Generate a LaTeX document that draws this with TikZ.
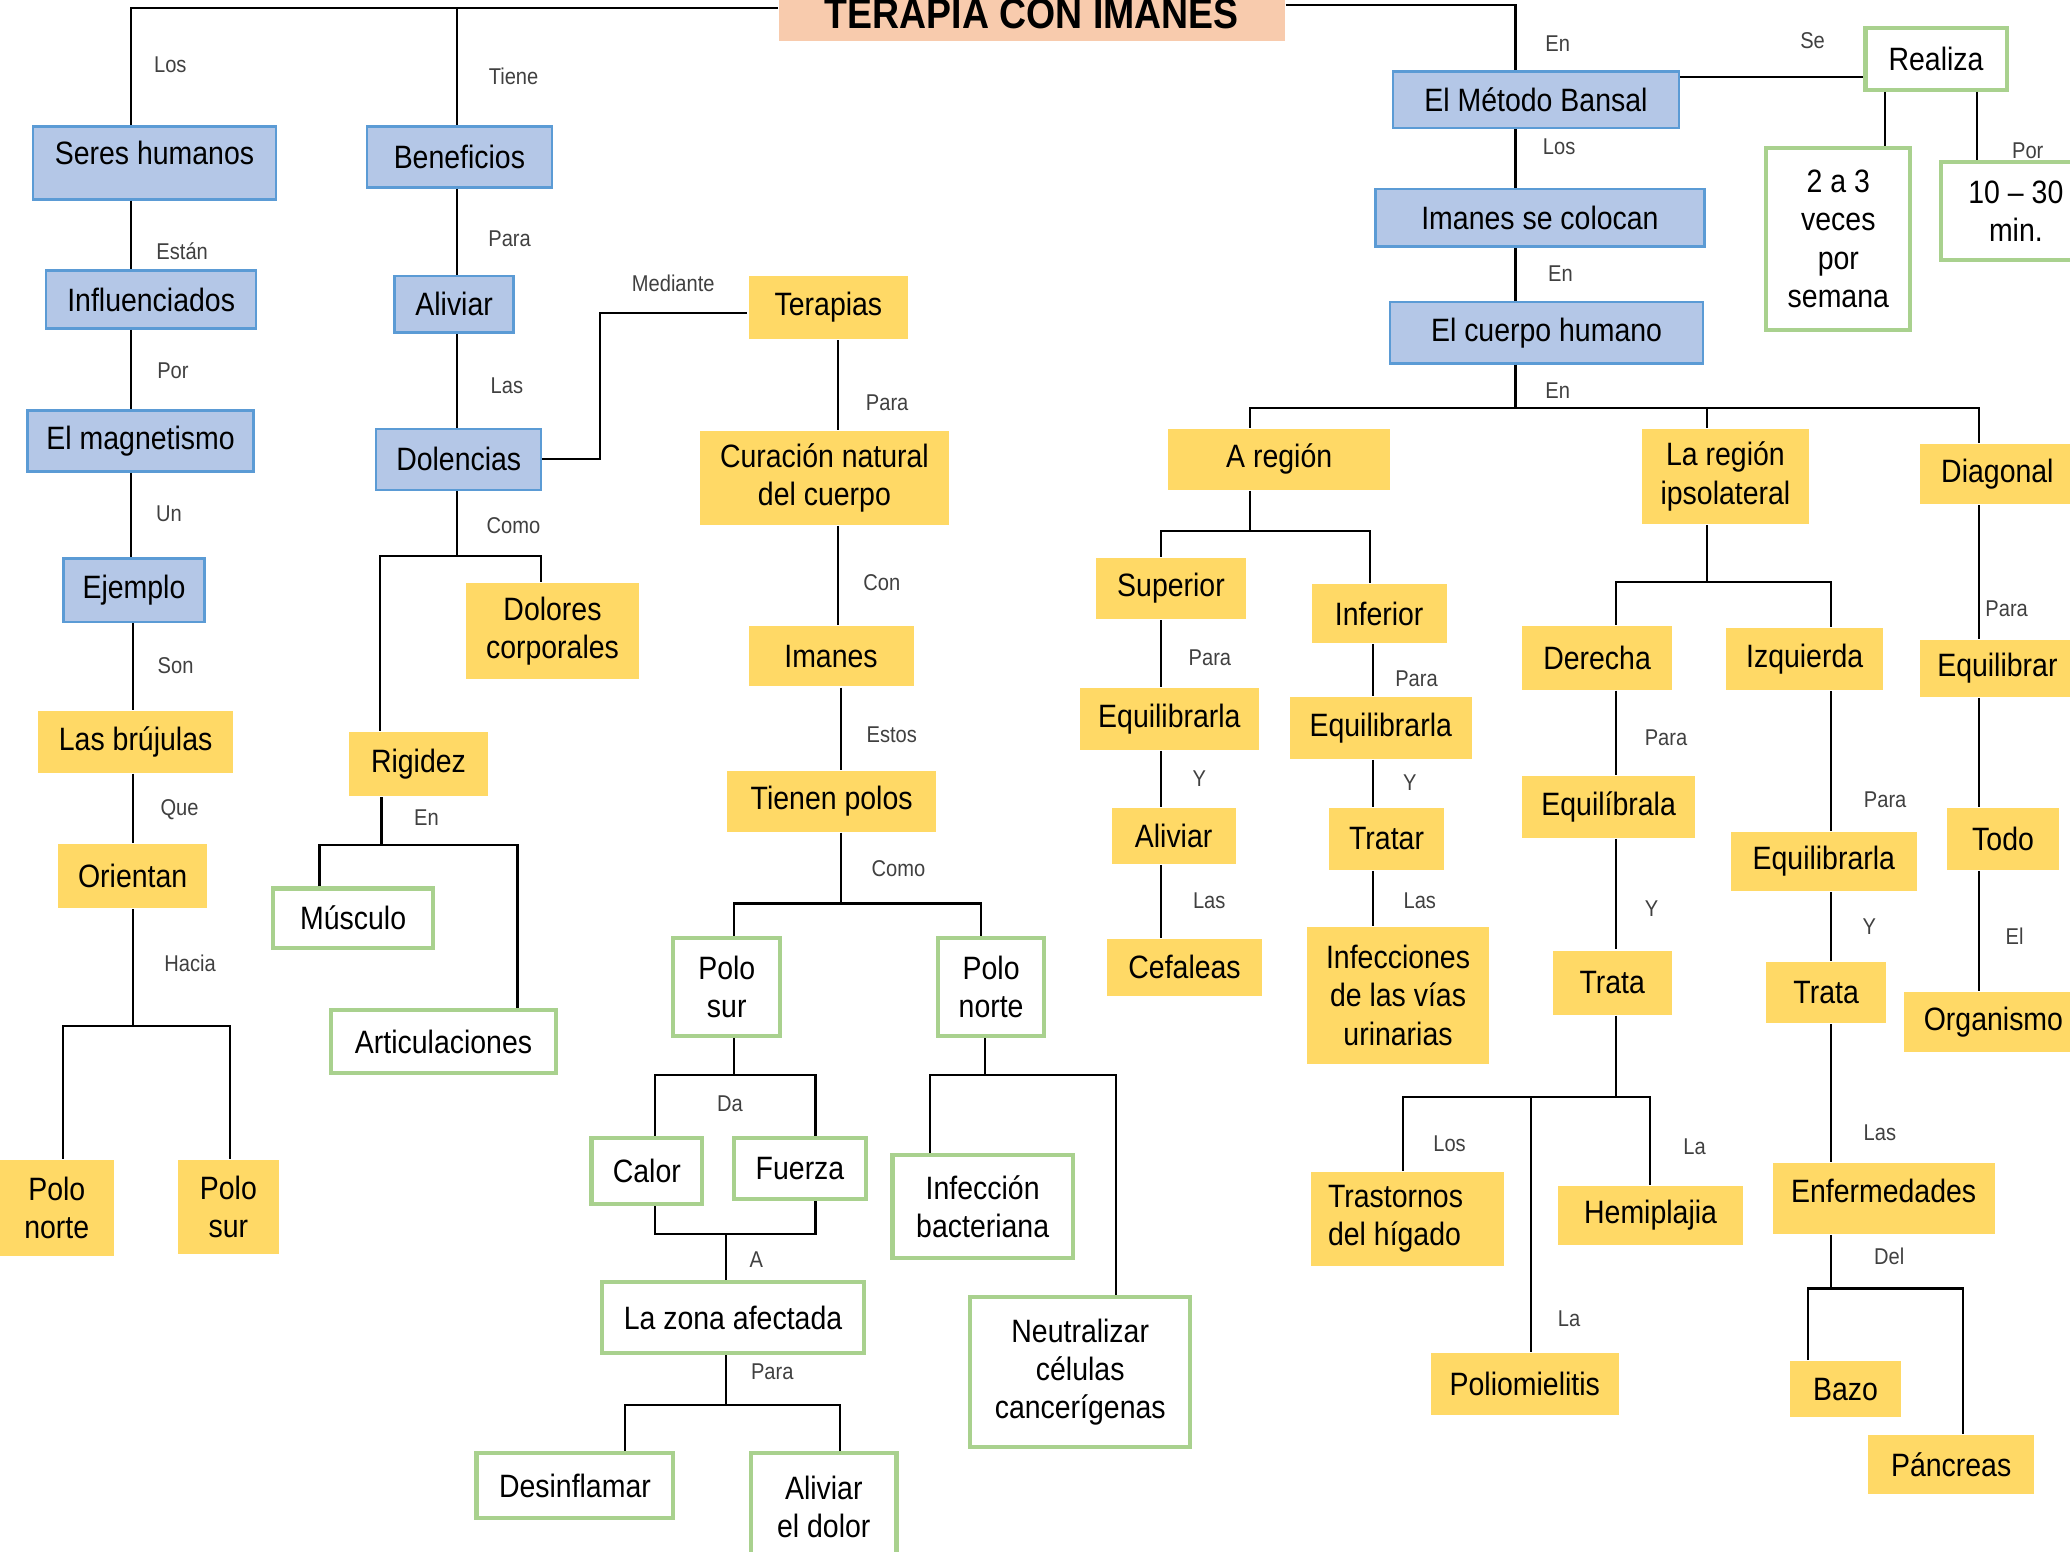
\documentclass[tikz,border=0pt]{standalone}
\usepackage{fontspec}
\setmainfont[FakeStretch=0.88]{Liberation Sans}
\definecolor{bfill}{HTML}{B4C7E7}
\definecolor{bline}{HTML}{5B9BD5}
\definecolor{yfill}{HTML}{FFD966}
\definecolor{gline}{HTML}{A9D18E}
\definecolor{tfill}{HTML}{F8CBAD}
\definecolor{lgray}{HTML}{404040}
\newcommand{\mainsz}{\fontsize{9.2}{10.9}\selectfont}
\newcommand{\lnksz}{\fontsize{6.5}{7.8}\selectfont}
\newcommand{\titsz}{\fontsize{12.1}{14}\selectfont\bfseries}
\tikzset{bconc/.style={draw=bline,fill=bfill,line width=0.7pt,font=\mainsz,inner sep=1pt,align=center},
	 yconc/.style={fill=yfill,font=\mainsz,inner sep=1pt,align=center},
	 gconc/.style={draw=gline,fill=white,line width=1.2pt,font=\mainsz,inner sep=1pt,align=center},
	 tconc/.style={fill=tfill,font=\titsz,inner sep=1pt},
	 lnk/.style={text=lgray,font=\lnksz,inner sep=0pt},
	 wh/.style 2 args={minimum width=#1*0.0132cm,minimum height=#2*0.0132cm}
	 }

\begin{document}
\begin{tikzpicture}[x=0.0132cm,y=-0.0132cm,line width=0.6pt] % Terapia con imanes
	\useasboundingbox (0,0) rectangle (1568,1175);
	\node[tconc] (titl) at (781.5,10.3) [wh={383}{41}] {TERAPIA CON IMANES};
	% left branches
	\node[bconc] (seres) at (117,123.5) [wh={184}{55},text depth=0.2cm] {Seres humanos};
	\node[bconc] (infl) at (114.5,227) [wh={159}{44}] {Influenciados};
	\node[bconc] (magn) at (106.5,334) [wh={171}{46}] {El magnetismo};
	\node[bconc] (ejem) at (101.5,447) [wh={107}{48}] {Ejemplo};
	\node[yconc] (bruj) at (102.75,562) [wh={147.5}{46.5}] {Las brújulas};
	\node[yconc] (orie) at (100.5,663.5) [wh={113}{49}] {Orientan};
	\node[yconc] (pnl) at (43,915) [wh={86}{73}] {Polo\\norte};
	\node[yconc] (psl) at (173,914.3) [wh={76}{71.4}] {Polo\\sur};
	\node[bconc] (benef) at (348,119) [wh={140}{46}] {Beneficios};
	\node[bconc] (alivb) at (344,230.5) [wh={90}{43}] {Aliviar};
	\node[bconc] (dolen) at (347.5,348) [wh={125}{46}] {Dolencias};
	\node[yconc] (dolo) at (418.5,478) [wh={131}{72}] {Dolores\\corporales};
	\node[yconc] (rigi) at (317,578.75) [wh={106}{48.5}] {Rigidez};
	\node[gconc] (musc) at (267.5,695.5) [wh={121}{45}] {Músculo};
	\node[gconc] (arti) at (336,789) [wh={170}{48}] {Articulaciones};
	% middle branch
	\node[yconc] (tera) at (627.5,233) [wh={121}{48}] {Terapias};
	\node[yconc] (cura) at (624.5,362) [wh={189}{71}] {Curación natural\\del cuerpo};
	\node[yconc] (iman) at (629.5,497) [wh={125}{46}] {Imanes};
	\node[yconc] (tien) at (630,607) [wh={158}{46}] {Tienen polos};
	\node[gconc] (psm) at (550.5,747.75) [wh={81}{74.5}] {Polo\\sur};
	\node[gconc] (pnm) at (750.75,747.75) [wh={80.5}{74.5}] {Polo\\norte};
	\node[gconc] (calo) at (490,887) [wh={84}{50}] {Calor};
	\node[gconc] (fuer) at (606,885) [wh={100}{46}] {Fuerza};
	\node[gconc] (zona) at (555.25,998) [wh={198.5}{54}] {La zona afectada};
	\node[gconc] (desi) at (435.5,1125.25) [wh={149}{49.5}] {Desinflamar};
	\node[gconc] (alid) at (624,1141.5) [wh={110}{82}] {Aliviar\\el dolor};
	\node[gconc] (infb) at (744.35,914) [wh={136.7}{78}] {Infección\\bacteriana};
	\node[gconc] (neut) at (818.25,1039.25) [wh={166.5}{113.5}] {Neutralizar\\células\\cancerígenas};
	% right branch
	\node[bconc] (bans) at (1163.5,75.5) [wh={217}{43}] {El Método Bansal};
	\node[bconc] (imco) at (1166.5,165) [wh={249}{43.5}] {Imanes se colocan};
	\node[bconc] (cuer) at (1171.5,252) [wh={237}{46.5}] {El cuerpo humano};
	\node[gconc] (real) at (1466.5,44.5) [wh={107}{47}] {Realiza};
	\node[gconc] (dos) at (1392.5,181) [wh={109}{138}] {2 a 3\\veces\\por\\semana};
	\node[gconc] (diez) at (1527,160) [wh={114}{74}] {10 – 30\\min.};
	\node[yconc] (areg) at (969,348) [wh={168}{46}] {A región};
	\node[yconc] (ipso) at (1307,361) [wh={126}{72}] {La región\\ipsolateral};
	\node[yconc] (diag) at (1513,359) [wh={118}{46}] {Diagonal};
	\node[yconc] (supe) at (887,445.75) [wh={113}{46.3}] {Superior};
	\node[yconc] (infe) at (1044.7,464.7) [wh={102}{44.6}] {Inferior};
	\node[yconc] (eqL) at (885.8,544.5) [wh={135.6}{47}] {Equilibrarla};
	\node[yconc] (eqR) at (1045.9,551.25) [wh={138}{47}] {Equilibrarla};
	\node[yconc] (aliy) at (889,633.3) [wh={94}{42.6}] {Aliviar};
	\node[yconc] (trat) at (1050.3,635.5) [wh={86.6}{47}] {Tratar};
	\node[yconc] (cefa) at (897.3,732.75) [wh={117.4}{43.5}] {Cefaleas};
	\node[yconc] (infu) at (1059,754) [wh={138}{104}] {Infecciones\\de las vías\\urinarias};
	\node[yconc] (dere) at (1209.75,498.2) [wh={113.5}{48.4}] {Derecha};
	\node[yconc] (izqu) at (1367,499.3) [wh={119}{47}] {Izquierda};
	\node[yconc] (eqla) at (1218.5,611.35) [wh={131}{46.7}] {Equilíbrala};
	\node[yconc] (eqiz) at (1381.5,652.5) [wh={141}{45}] {Equilibrarla};
	\node[yconc] (trdr) at (1221.25,744.25) [wh={90.5}{48.5}] {Trata};
	\node[yconc] (triz) at (1383.3,752) [wh={90.6}{46}] {Trata};
	\node[yconc] (equi) at (1513,506.25) [wh={118}{43}] {Equilibrar};
	\node[yconc] (todo) at (1517.3,635.5) [wh={84.6}{47}] {Todo};
	\node[yconc] (orga) at (1510,774.2) [wh={136}{45.6}] {Organismo};
	\node[yconc] (tras) at (1066,923.25) [wh={146}{71},text width=120*0.0132cm,align=flush left] {Trastornos\\del hígado};
	\node[yconc] (hemi) at (1250.3,920.8) [wh={140.6}{44.4}] {Hemiplajia};
	\node[yconc] (poli) at (1155,1048.5) [wh={142}{47}] {Poliomielitis};
	\node[yconc] (enfe) at (1426.85,908.1) [wh={168.3}{53.8},text depth=0.16cm] {Enfermedades};
	\node[yconc] (bazo) at (1398,1052.25) [wh={84}{42.5}] {Bazo};
	\node[yconc] (panc) at (1478,1109.3) [wh={126}{44.6}] {Páncreas};
	% link words
	\node[lnk] (lb1) at (129,49) {Los};
	\node[lnk] (lb2) at (138,190) {Están};
	\node[lnk] (lb3) at (131,281) {Por};
	\node[lnk] (lb4) at (128,389) {Un};
	\node[lnk] (lb5) at (133,504) {Son};
	\node[lnk] (lb6) at (136,613) {Que};
	\node[lnk] (lb7) at (144,730) {Hacia};
	\node[lnk] (lb8) at (389,58) {Tiene};
	\node[lnk] (lb9) at (386,181) {Para};
	\node[lnk] (lb10) at (384,292) {Las};
	\node[lnk] (lb11) at (389,398) {Como};
	\node[lnk] (lb12) at (323,619) {En};
	\node[lnk] (lb13) at (510,215) {Mediante};
	\node[lnk] (lb14) at (672,305) {Para};
	\node[lnk] (lb15) at (668,441) {Con};
	\node[lnk] (lb16) at (675.5,556.5) {Estos};
	\node[lnk] (lb17) at (680.5,658) {Como};
	\node[lnk] (lb18) at (553,836) {Da};
	\node[lnk] (lb19) at (573,954) {A};
	\node[lnk] (lb20) at (585,1039) {Para};
	\node[lnk] (lb21) at (1180,33) {En};
	\node[lnk] (lb22) at (1373,31) {Se};
	\node[lnk] (lb23) at (1181,111) {Los};
	\node[lnk] (lb24) at (1182,207) {En};
	\node[lnk] (lb25) at (1180,296) {En};
	\node[lnk] (lb26) at (1536,114) {Por};
	\node[lnk] (lb27) at (916.5,498.5) {Para};
	\node[lnk] (lb28) at (908.5,590) {Y};
	\node[lnk] (lb29) at (916,682) {Las};
	\node[lnk] (lb30) at (1073,514) {Para};
	\node[lnk] (lb31) at (1068,592.5) {Y};
	\node[lnk] (lb32) at (1075.5,682) {Las};
	\node[lnk] (lb33) at (1262,559) {Para};
	\node[lnk] (lb34) at (1251,688.5) {Y};
	\node[lnk] (lb35) at (1428,606) {Para};
	\node[lnk] (lb36) at (1416,702) {Y};
	\node[lnk] (lb37) at (1424,858) {Las};
	\node[lnk] (lb38) at (1431,952) {Del};
	\node[lnk] (lb39) at (1520,461) {Para};
	\node[lnk] (lb40) at (1526,709) {El};
	\node[lnk] (lb41) at (1098,866.5) {Los};
	\node[lnk] (lb42) at (1283.6,869) {La};
	\node[lnk] (lb43) at (1188.6,999) {La};
	% connectors
	\coordinate (tl) at (99,6); \coordinate (tb) at (346,6); \coordinate (tr) at (1148,4);
	\draw (titl.west |- tl) -- (tl) -- (tl |- seres.north); \draw (tb) -- (tb |- benef.north);
	\draw (titl.east |- tr) -- (tr) -- (tr |- bans.north);
	\coordinate (ca) at (99,0); \coordinate (cb) at (101,0);
	\draw (ca |- seres.south) -- (ca |- infl.north); \draw (ca |- infl.south) -- (ca |- magn.north);
	\draw (ca |- magn.south) -- (ca |- ejem.north); \draw (cb |- ejem.south) -- (cb |- bruj.north);
	\draw (cb |- bruj.south) -- (cb |- orie.north);
	\coordinate (fo1) at (48,777); \coordinate (fo2) at (174,777);
	\draw (cb |- orie.south) -- (cb |- fo1); \draw (fo1 |- pnl.north) -- (fo1) -- (fo2) -- (fo2 |- psl.north);
	\draw (tb |- benef.south) -- (tb |- alivb.north); \draw (tb |- alivb.south) -- (tb |- dolen.north);
	\coordinate (fd1) at (288,421.5); \coordinate (fd2) at (410,421.5);
	\draw (tb |- dolen.south) -- (tb |- fd1); \draw (fd1 |- rigi.north) -- (fd1) -- (fd2) -- (fd2 |- dolo.north);
	\coordinate (fr0) at (289,640); \coordinate (fr1) at (242,640); \coordinate (fr2) at (392,640);
	\draw (fr0 |- rigi.south) -- (fr0); \draw (fr1 |- musc.north) -- (fr1) -- (fr2) -- (fr2 |- arti.north);
	\coordinate (med) at (454.5,237);
	\draw (dolen.east) -| (med) -- (med -| tera.west);
	\coordinate (cm) at (634.5,0); \coordinate (cn) at (637,0);
	\draw (cm |- tera.south) -- (cm |- cura.north); \draw (cm |- cura.south) -- (cm |- iman.north);
	\draw (cn |- iman.south) -- (cn |- tien.north);
	\coordinate (fp1) at (556,684.4); \coordinate (fp2) at (743,684.4);
	\draw (cn |- tien.south) -- (cn |- fp1); \draw (fp1 |- psm.north) -- (fp1) -- (fp2) -- (fp2 |- pnm.north);
	\coordinate (fs1) at (496,814.6); \coordinate (fs2) at (617.7,814.6);
	\draw (fp1 |- psm.south) -- (fp1 |- fs1); \draw (fs1 |- calo.north) -- (fs1) -- (fs2) -- (fs2 |- fuer.north);
	\coordinate (fz0) at (550,935); \coordinate (fz1) at (496,935); \coordinate (fz2) at (617.7,935);
	\draw (fz1 |- calo.south) -- (fz1) -- (fz2) -- (fz2 |- fuer.south); \draw (fz0) -- (fz0 |- zona.north);
	\coordinate (fa1) at (473.5,1064.6); \coordinate (fa2) at (636.5,1064.6);
	\draw (fz0 |- zona.south) -- (fz0 |- fa1); \draw (fa1 |- desi.north) -- (fa1) -- (fa2) -- (fa2 |- alid.north);
	\coordinate (fn0) at (746,814.6); \coordinate (fn1) at (704.6,814.6); \coordinate (fn2) at (845.5,814.6);
	\draw (fn0 |- pnm.south) -- (fn0); \draw (fn1 |- infb.north) -- (fn1) -- (fn2) -- (fn2 |- neut.north);
	\coordinate (se) at (1340,58.6); \draw (se -| bans.east) -- (se -| real.west);
	\coordinate (r1) at (1428,0); \coordinate (r2) at (1497.6,0);
	\draw (r1 |- real.south) -- (r1 |- dos.north); \draw (r2 |- real.south) -- (r2 |- diez.north);
	\draw (tr |- bans.south) -- (tr |- imco.north); \draw (tr |- imco.south) -- (tr |- cuer.north);
	\coordinate (fe0) at (1148,309); \coordinate (fe1) at (947,309); \coordinate (fe2) at (1499,309); \coordinate (ip) at (1293,309);
	\draw (tr |- cuer.south) -- (fe0); \draw (fe1 |- areg.north) -- (fe1) -- (fe2) -- (fe2 |- diag.north);
	\draw (ip) -- (ip |- ipso.north);
	\coordinate (fg1) at (879.6,402.5); \coordinate (fg2) at (1037.8,402.5); \coordinate (ch) at (1040,0);
	\draw (fe1 |- areg.south) -- (fe1 |- fg1); \draw (fg1 |- supe.north) -- (fg1) -- (fg2) -- (fg2 |- infe.north);
	\draw (fg1 |- supe.south) -- (fg1 |- eqL.north); \draw (fg1 |- eqL.south) -- (fg1 |- aliy.north);
	\draw (fg1 |- aliy.south) -- (fg1 |- cefa.north);
	\draw (ch |- infe.south) -- (ch |- eqR.north); \draw (ch |- eqR.south) -- (ch |- trat.north);
	\draw (ch |- trat.south) -- (ch |- infu.north);
	\coordinate (fi1) at (1224,441); \coordinate (fi2) at (1387,441);
	\draw (ip |- ipso.south) -- (ip |- fi1); \draw (fi1 |- dere.north) -- (fi1) -- (fi2) -- (fi2 |- izqu.north);
	\draw (fi1 |- dere.south) -- (fi1 |- eqla.north); \draw (fi1 |- eqla.south) -- (fi1 |- trdr.north);
	\coordinate (ft0) at (1160,831); \coordinate (ft1) at (1063,831); \coordinate (ft2) at (1250,831);
	\draw (fi1 |- trdr.south) -- (fi1 |- ft1); \draw (ft1 |- tras.north) -- (ft1) -- (ft2) -- (ft2 |- hemi.north);
	\draw (ft0) -- (ft0 |- poli.north);
	\draw (fi2 |- izqu.south) -- (fi2 |- eqiz.north); \draw (fi2 |- eqiz.south) -- (fi2 |- triz.north);
	\draw (fi2 |- triz.south) -- (fi2 |- enfe.north);
	\coordinate (fb1) at (1369.6,976); \coordinate (fb2) at (1487,976);
	\draw (fi2 |- enfe.south) -- (fi2 |- fb1); \draw (fb1 |- bazo.north) -- (fb1) -- (fb2) -- (fb2 |- panc.north);
	\draw (fe2 |- diag.south) -- (fe2 |- equi.north); \draw (fe2 |- equi.south) -- (fe2 |- todo.north);
	\draw (fe2 |- todo.south) -- (fe2 |- orga.north);
\end{tikzpicture}
\end{document}
